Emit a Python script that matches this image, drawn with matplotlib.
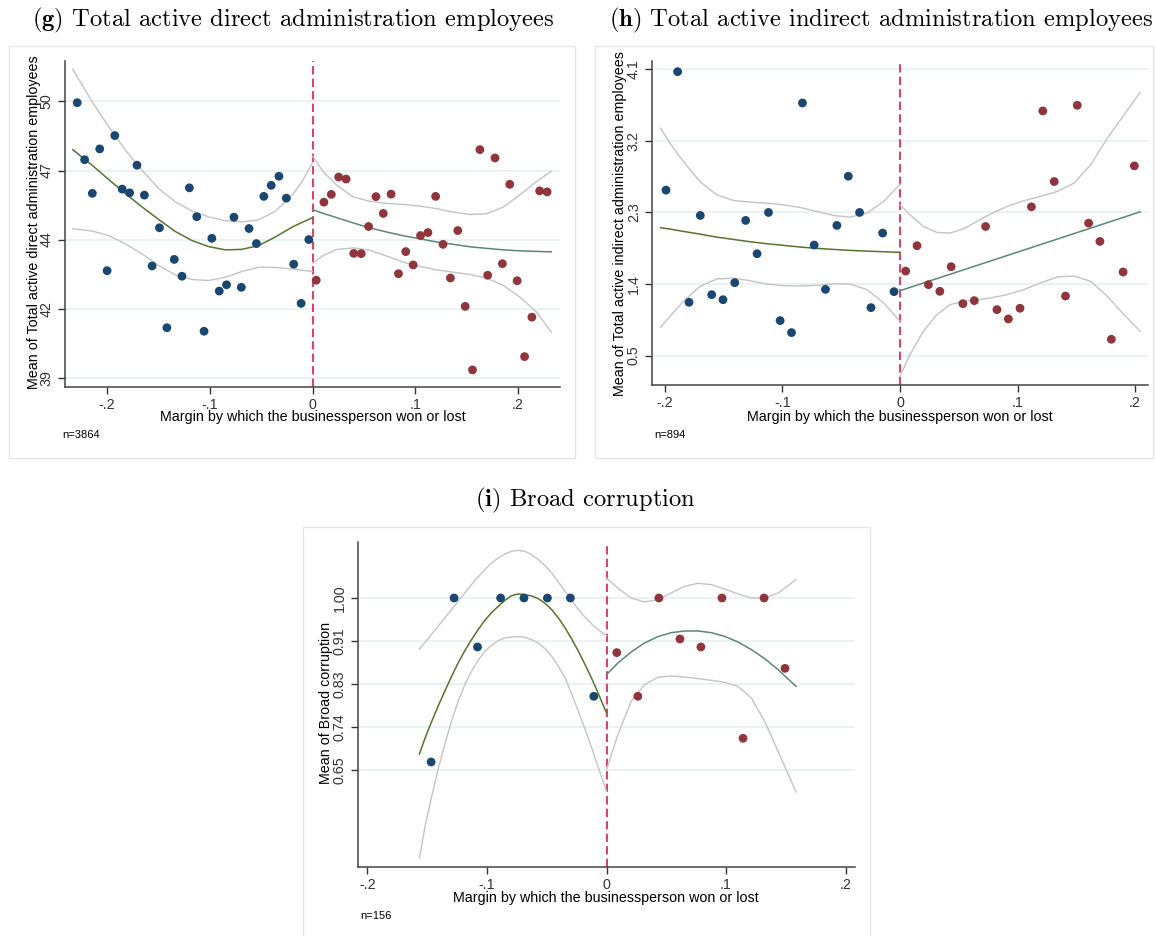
import matplotlib
matplotlib.use("Agg")
import matplotlib.pyplot as plt
from matplotlib.patches import Rectangle

plt.rcParams['font.family'] = ['Liberation Sans', 'DejaVu Sans']
plt.rcParams['mathtext.fontset'] = 'cm'

# ---------------- data ----------------
x_ticks = [-0.2, -0.1, 0, 0.1, 0.2]
x_ticklabels = ['-.2', '-.1', '0', '.1', '.2']
xlabel = 'Margin by which the businessperson won or lost'

# (g) direct administration employees
g_yticks = [39, 41.75, 44.5, 47.25, 50]
g_yticklabels = ['39', '42', '44', '47', '50']
g_left_x = [-0.2291, -0.2219, -0.2144, -0.2072, -0.2000, -0.1925, -0.1853, -0.1781,
            -0.1709, -0.1637, -0.1562, -0.1490, -0.1418, -0.1346, -0.1271, -0.1199,
            -0.1127, -0.1056, -0.0980, -0.0908, -0.0837, -0.0765, -0.0693, -0.0618,
            -0.0546, -0.0474, -0.0402, -0.0327, -0.0255, -0.0183, -0.0111, -0.0036]
g_left_y = [49.95, 47.68, 46.34, 48.11, 43.26, 48.64, 46.51, 46.36, 47.46, 46.27,
            43.45, 44.97, 40.99, 43.71, 43.04, 46.56, 45.41, 40.85, 44.55, 42.45,
            42.70, 45.39, 42.60, 44.94, 44.34, 46.22, 46.66, 47.02, 46.15, 43.52,
            41.96, 44.50]
g_right_x = [0.0036, 0.0111, 0.0183, 0.0255, 0.0327, 0.0402, 0.0474, 0.0546, 0.0618,
             0.0689, 0.0765, 0.0837, 0.0908, 0.0980, 0.1052, 0.1124, 0.1199, 0.1271,
             0.1343, 0.1415, 0.1487, 0.1558, 0.1630, 0.1706, 0.1777, 0.1849, 0.1921,
             0.1993, 0.2065, 0.2136, 0.2212, 0.2284]
g_right_y = [42.88, 45.99, 46.30, 46.99, 46.91, 43.95, 43.94, 45.02, 46.21, 45.54,
             46.31, 43.14, 44.02, 43.49, 44.66, 44.78, 46.22, 44.31, 42.97, 44.86,
             41.84, 39.31, 48.08, 43.08, 47.75, 43.54, 46.70, 42.86, 39.84, 41.41,
             46.44, 46.40]
g_fit_lx = [-0.2334, -0.2146, -0.1984, -0.1822, -0.1660, -0.1498, -0.1335, -0.1173,
            -0.1011, -0.0849, -0.0687, -0.0525, -0.0363, -0.0201, -0.0104, 0.0]
g_fit_l = [48.08, 47.46, 46.89, 46.33, 45.80, 45.30, 44.82, 44.46, 44.22, 44.09,
           44.11, 44.26, 44.60, 44.99, 45.18, 45.37]
g_hi_l = [51.28, 49.99, 48.99, 48.06, 47.26, 46.53, 46.00, 45.64, 45.40, 45.25,
          45.20, 45.29, 45.62, 46.26, 46.79, 47.56]
g_lo_l = [44.93, 44.84, 44.66, 44.33, 43.93, 43.47, 43.09, 42.91, 42.87, 43.00,
          43.23, 43.40, 43.39, 43.33, 43.28, 43.23]
g_fit_rx = [0.0, 0.0107, 0.0237, 0.0399, 0.0562, 0.0724, 0.0886, 0.1049, 0.1211,
            0.1373, 0.1536, 0.1698, 0.1860, 0.2023, 0.2185, 0.2325]
g_fit_r = [45.69, 45.54, 45.37, 45.16, 44.96, 44.80, 44.65, 44.53, 44.40, 44.31,
           44.21, 44.15, 44.09, 44.05, 44.03, 44.01]
g_hi_r = [47.82, 47.19, 46.66, 46.19, 46.02, 45.94, 45.90, 45.83, 45.73, 45.59,
          45.50, 45.53, 45.80, 46.29, 46.82, 47.22]
g_lo_r = [43.56, 43.87, 44.11, 44.17, 44.07, 43.84, 43.60, 43.43, 43.29, 43.20,
          43.11, 42.96, 42.67, 42.20, 41.60, 40.81]

# (h) indirect administration employees
h_yticks = [0.5, 1.4, 2.3, 3.2, 4.1]
h_yticklabels = ['0.5', '1.4', '2.3', '3.2', '4.1']
h_left_x = [-0.1991, -0.1892, -0.1795, -0.1699, -0.1602, -0.1506, -0.1406, -0.1313,
            -0.1216, -0.1119, -0.1020, -0.0923, -0.0830, -0.0730, -0.0634, -0.0537,
            -0.0440, -0.0344, -0.0247, -0.0148, -0.0051]
h_left_y = [2.581, 4.071, 1.170, 2.262, 1.266, 1.203, 1.417, 2.200, 1.781, 2.300,
            0.940, 0.789, 3.677, 1.890, 1.333, 2.137, 2.756, 2.300, 1.103, 2.041, 1.304]
h_right_x = [0.0048, 0.0145, 0.0242, 0.0339, 0.0435, 0.0535, 0.0632, 0.0728, 0.0825,
             0.0922, 0.1021, 0.1118, 0.1215, 0.1312, 0.1408, 0.1508, 0.1605, 0.1701,
             0.1798, 0.1898, 0.1994]
h_right_y = [1.563, 1.882, 1.392, 1.308, 1.618, 1.153, 1.191, 2.124, 1.078, 0.961,
             1.095, 2.371, 3.577, 2.689, 1.249, 3.648, 2.166, 1.936, 0.705, 1.551, 2.886]
h_fit_lx = [-0.2037, -0.1957, -0.1844, -0.1702, -0.1560, -0.1418, -0.1276, -0.1134,
            -0.0991, -0.0849, -0.0707, -0.0565, -0.0423, -0.0281, -0.0139, 0.0]
h_fit_l = [2.108, 2.091, 2.062, 2.028, 1.990, 1.961, 1.932, 1.907, 1.886, 1.865,
           1.848, 1.835, 1.823, 1.814, 1.806, 1.798]
h_hi_l = [3.359, 3.171, 2.941, 2.689, 2.522, 2.451, 2.430, 2.417, 2.396, 2.363,
          2.313, 2.262, 2.241, 2.292, 2.438, 2.656]
h_lo_l = [0.856, 0.994, 1.182, 1.371, 1.463, 1.475, 1.442, 1.400, 1.379, 1.375,
          1.383, 1.404, 1.400, 1.329, 1.162, 0.931]
h_fit_rx = [0.0, 0.0484, 0.1053, 0.1622, 0.2043]
h_fit_r = [1.316, 1.551, 1.827, 2.103, 2.308]
h_ci_rx = [0.0, 0.0085, 0.0199, 0.0313, 0.0427, 0.0541, 0.0654, 0.0768, 0.0910,
           0.1053, 0.1195, 0.1337, 0.1479, 0.1622, 0.1764, 0.1906, 0.2043]
h_hi_r = [2.396, 2.271, 2.124, 2.049, 2.041, 2.095, 2.187, 2.279, 2.375, 2.447,
          2.501, 2.564, 2.668, 2.899, 3.234, 3.527, 3.811]
h_lo_r = [0.241, 0.513, 0.806, 1.015, 1.141, 1.183, 1.203, 1.224, 1.266, 1.329,
          1.413, 1.488, 1.501, 1.434, 1.245, 1.015, 0.806]

# (i) broad corruption
i_yticks = [0.65, 0.7375, 0.825, 0.9125, 1.0]
i_yticklabels = ['0.65', '0.74', '0.83', '0.91', '1.00']
i_left_x = [-0.1466, -0.1274, -0.1078, -0.0885, -0.0690, -0.0494, -0.0302, -0.0106]
i_left_y = [0.6669, 1.0, 0.9005, 1.0, 1.0, 1.0, 1.0, 0.8003]
i_right_x = [0.0086, 0.0262, 0.0438, 0.0614, 0.0789, 0.0965, 0.1141, 0.1317, 0.1492]
i_right_y = [0.8890, 0.8003, 1.0, 0.9167, 0.9005, 1.0, 0.7150, 1.0, 0.8571]
i_fit_lx = [-0.1564, -0.1514, -0.1464, -0.1408, -0.1352, -0.1296, -0.1240, -0.1184,
            -0.1128, -0.1073, -0.1017, -0.0961, -0.0905, -0.0849, -0.0793, -0.0737,
            -0.0682, -0.0626, -0.0570, -0.0514, -0.0458, -0.0402, -0.0346, -0.0291,
            -0.0235, -0.0179, -0.0123, -0.0067, 0.0]
i_fit_l = [0.6831, 0.7170, 0.7475, 0.7800, 0.8104, 0.8402, 0.8680, 0.8930, 0.9154,
           0.9357, 0.9546, 0.9702, 0.9831, 0.9953, 1.0047, 1.0081, 1.0068, 1.0041,
           0.9986, 0.9892, 0.9763, 0.9594, 0.9391, 0.9167, 0.8917, 0.8646, 0.8362,
           0.8050, 0.7664]
i_hi_l = [0.8964, 0.9106, 0.9255, 0.9425, 0.9594, 0.9763, 0.9932, 1.0102, 1.0271,
          1.0427, 1.0575, 1.0711, 1.0812, 1.0894, 1.0948, 1.0968, 1.0948, 1.0880,
          1.0779, 1.0657, 1.0508, 1.0325, 1.0135, 0.9946, 0.9763, 0.9607, 0.9472,
          0.9350, 0.9235]
i_lo_l = [0.4719, 0.5396, 0.5938, 0.6513, 0.7021, 0.7495, 0.7901, 0.8240, 0.8510,
          0.8734, 0.8917, 0.9039, 0.9133, 0.9188, 0.9208, 0.9215, 0.9201, 0.9154,
          0.9086, 0.8971, 0.8815, 0.8612, 0.8375, 0.8050, 0.7698, 0.7339, 0.6953,
          0.6547, 0.6073]
i_fit_rx = [0.0, 0.0095, 0.0206, 0.0318, 0.0430, 0.0541, 0.0653, 0.0764, 0.0876,
            0.0987, 0.1099, 0.1211, 0.1322, 0.1434, 0.1584]
i_fit_r = [0.8443, 0.8680, 0.8903, 0.9086, 0.9215, 0.9296, 0.9330, 0.9330, 0.9296,
           0.9221, 0.9106, 0.8951, 0.8768, 0.8544, 0.8206]
i_hi_r = [1.0406, 1.0203, 1.0, 0.9919, 0.9966, 1.0102, 1.0237, 1.0298, 1.0271,
          1.0183, 1.0081, 1.0, 1.0, 1.0102, 1.0372]
i_lo_r = [0.6513, 0.7224, 0.7901, 0.8240, 0.8389, 0.8416, 0.8395, 0.8362, 0.8328,
          0.8287, 0.8206, 0.7969, 0.7495, 0.6886, 0.6060]

# ---------------- styling ----------------
W, H = 1156, 936
NAVY = '#1a476f'
MAROON = '#90353b'
GREEN = '#55752f'
TEAL = '#5b8779'
CI = '#c4c4c4'
CUT = '#d8446c'
GRID = '#e8f0f1'

fig = plt.figure(figsize=(W / 100, H / 100), dpi=100)


def px_axes(l, t, r, b):
    return fig.add_axes([l / W, 1 - b / H, (r - l) / W, (b - t) / H])


def frame(l, t, r, b):
    fig.patches.append(Rectangle((l / W, 1 - b / H), (r - l) / W, (b - t) / H,
                                 transform=fig.transFigure, fill=False,
                                 edgecolor='#e6e6e6', lw=1))


def ftext(x, y, s, **kw):
    fig.text(x / W, 1 - y / H, s, ha='center', va='center', **kw)


def panel(ax, xlim, ylim, yticks, yticklabels):
    ax.set_xlim(xlim)
    ax.set_ylim(ylim)
    ax.set_xticks(x_ticks)
    ax.set_xticklabels(x_ticklabels)
    ax.set_yticks(yticks)
    ax.set_yticklabels(yticklabels, va='center')
    ax.tick_params(axis='y', labelrotation=90)
    ax.tick_params(direction='out', length=5, width=1, colors='#333333',
                   labelsize=10.3, pad=3)
    ax.yaxis.grid(True, color=GRID, lw=1.2)
    ax.set_axisbelow(True)
    for s in ['top', 'right']:
        ax.spines[s].set_visible(False)
    for s in ['left', 'bottom']:
        ax.spines[s].set_color('#444444')
        ax.spines[s].set_linewidth(1.1)
    ax.axvline(0, color=CUT, lw=1.5, linestyle=(0, (4, 2)), zorder=2)


def draw(ax, lx, ly, rx, ry, flx, fl, hl, ll, frx, fr, crx, hr, lr):
    for xs, ys in [(flx, hl), (flx, ll), (crx, hr), (crx, lr)]:
        ax.plot(xs, ys, color=CI, lw=1.0, zorder=3, solid_joinstyle='round')
    ax.plot(flx, fl, color=GREEN, lw=1.1, zorder=4, solid_joinstyle='round')
    ax.plot(frx, fr, color=TEAL, lw=1.1, zorder=4, solid_joinstyle='round')
    ax.scatter(lx, ly, s=40, color=NAVY, edgecolors='none', zorder=5)
    ax.scatter(rx, ry, s=40, color=MAROON, edgecolors='none', zorder=5)


title_kw = dict(fontfamily='cmr10', fontsize=17.7)

# (g)
frame(9, 46, 575, 458)
ax_g = px_axes(65, 61, 560, 387)
panel(ax_g, (-0.241, 0.241), (38.63, 51.61), g_yticks, g_yticklabels)
draw(ax_g, g_left_x, g_left_y, g_right_x, g_right_y, g_fit_lx, g_fit_l, g_hi_l,
     g_lo_l, g_fit_rx, g_fit_r, g_fit_rx, g_hi_r, g_lo_r)
ftext(293, 20, r'$\mathbf{(g)}$ Total active direct administration employees', **title_kw)
ftext(34, 222, 'Mean of Total active direct administration employees', rotation=90, fontsize=10.3)
ftext(313, 417, xlabel, fontsize=10.3)
fig.text(62 / W, 1 - 435 / H, 'n=3864', ha='left', va='center', fontsize=8)

# (h)
frame(595, 46, 1153, 458)
ax_h = px_axes(652, 61, 1148, 385)
panel(ax_h, (-0.211, 0.211), (0.13, 4.205), h_yticks, h_yticklabels)
draw(ax_h, h_left_x, h_left_y, h_right_x, h_right_y, h_fit_lx, h_fit_l, h_hi_l,
     h_lo_l, h_fit_rx, h_fit_r, h_ci_rx, h_hi_r, h_lo_r)
ftext(881, 20, r'$\mathbf{(h)}$ Total active indirect administration employees', **title_kw)
ftext(620, 224, 'Mean of Total active indirect administration employees', rotation=90, fontsize=10.3)
ftext(900, 417, xlabel, fontsize=10.3)
fig.text(654 / W, 1 - 435 / H, 'n=894', ha='left', va='center', fontsize=8)

# (i)
frame(303, 527, 870, 945)
ax_i = px_axes(358, 542, 855, 867)
panel(ax_i, (-0.2077, 0.2077), (0.4536, 1.1137), i_yticks, i_yticklabels)
draw(ax_i, i_left_x, i_left_y, i_right_x, i_right_y, i_fit_lx, i_fit_l, i_hi_l,
     i_lo_l, i_fit_rx, i_fit_r, i_fit_rx, i_hi_r, i_lo_r)
ftext(585, 500, r'$\mathbf{(i)}$ Broad corruption', **title_kw)
ftext(326, 703, 'Mean of Broad corruption', rotation=90, fontsize=10.3)
ftext(606, 898, xlabel, fontsize=10.3)
fig.text(360 / W, 1 - 916 / H, 'n=156', ha='left', va='center', fontsize=8)

fig.savefig('out.png', dpi=100, facecolor='white')
